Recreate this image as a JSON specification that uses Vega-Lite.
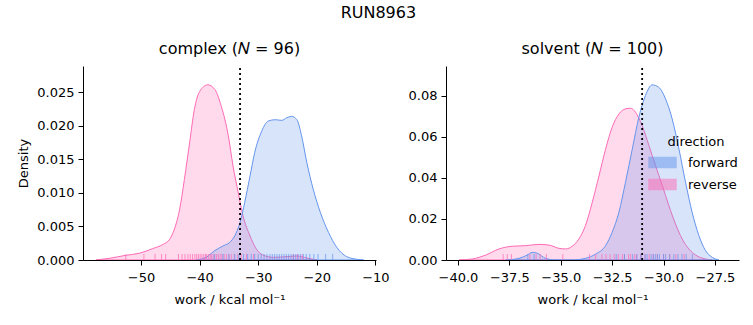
{
  "$schema": "https://vega.github.io/schema/vega-lite/v6.json",
  "background": "white",
  "padding": {"left": 17, "top": 5, "right": 5, "bottom": 5},
  "title": {"text": "RUN8963", "fontSize": 16, "font": "DejaVu Sans", "fontWeight": "normal", "color": "black", "anchor": "middle", "offset": 20},
  "config": {
    "font": "DejaVu Sans",
    "view": {"stroke": null},
    "axis": {"labelFont": "DejaVu Sans", "labelFontSize": 13, "titleFont": "DejaVu Sans", "titleFontSize": 13, "titleFontWeight": "normal", "labelColor": "black", "titleColor": "black", "domainColor": "black", "tickColor": "black", "grid": false, "tickSize": 5, "labelPadding": 4, "titlePadding": 6, "labelFlush": false, "labelOverlap": false},
    "axisX": {"labelPadding": 6, "titlePadding": 9},
    "title": {"font": "DejaVu Sans", "fontSize": 16, "fontWeight": "normal", "color": "black"}
  },
  "bounds": "flush",
  "spacing": 70,
  "resolve": {"scale": {"fill": "independent", "stroke": "independent"}, "legend": {"fill": "independent", "stroke": "independent"}},
  "datasets": {
    "kde": [
      {"phase": "complex", "direction": "reverse", "work": -57.7, "density": 0},
      {"phase": "complex", "direction": "reverse", "work": -55.4, "density": 0.00025},
      {"phase": "complex", "direction": "reverse", "work": -52.6, "density": 0.0007},
      {"phase": "complex", "direction": "reverse", "work": -50.3, "density": 0.001},
      {"phase": "complex", "direction": "reverse", "work": -48.0, "density": 0.0017},
      {"phase": "complex", "direction": "reverse", "work": -46.3, "density": 0.0023},
      {"phase": "complex", "direction": "reverse", "work": -45.1, "density": 0.0031},
      {"phase": "complex", "direction": "reverse", "work": -44.3, "density": 0.0046},
      {"phase": "complex", "direction": "reverse", "work": -43.4, "density": 0.0076},
      {"phase": "complex", "direction": "reverse", "work": -42.6, "density": 0.012},
      {"phase": "complex", "direction": "reverse", "work": -41.7, "density": 0.0175},
      {"phase": "complex", "direction": "reverse", "work": -40.9, "density": 0.0224},
      {"phase": "complex", "direction": "reverse", "work": -40.0, "density": 0.0251},
      {"phase": "complex", "direction": "reverse", "work": -38.6, "density": 0.0261},
      {"phase": "complex", "direction": "reverse", "work": -37.4, "density": 0.0254},
      {"phase": "complex", "direction": "reverse", "work": -36.3, "density": 0.0229},
      {"phase": "complex", "direction": "reverse", "work": -35.1, "density": 0.0185},
      {"phase": "complex", "direction": "reverse", "work": -34.3, "density": 0.014},
      {"phase": "complex", "direction": "reverse", "work": -33.4, "density": 0.010},
      {"phase": "complex", "direction": "reverse", "work": -32.6, "density": 0.0066},
      {"phase": "complex", "direction": "reverse", "work": -31.4, "density": 0.0036},
      {"phase": "complex", "direction": "reverse", "work": -30.3, "density": 0.0016},
      {"phase": "complex", "direction": "reverse", "work": -29.1, "density": 0.0007},
      {"phase": "complex", "direction": "reverse", "work": -27.4, "density": 0.0004},
      {"phase": "complex", "direction": "reverse", "work": -25.1, "density": 0.0005},
      {"phase": "complex", "direction": "reverse", "work": -23.4, "density": 0.0006},
      {"phase": "complex", "direction": "reverse", "work": -21.7, "density": 0.0003},
      {"phase": "complex", "direction": "reverse", "work": -20.0, "density": 0},
      {"phase": "complex", "direction": "forward", "work": -40.6, "density": 0},
      {"phase": "complex", "direction": "forward", "work": -38.9, "density": 0.0004},
      {"phase": "complex", "direction": "forward", "work": -37.4, "density": 0.0014},
      {"phase": "complex", "direction": "forward", "work": -36.0, "density": 0.0021},
      {"phase": "complex", "direction": "forward", "work": -34.9, "density": 0.0026},
      {"phase": "complex", "direction": "forward", "work": -34.0, "density": 0.0036},
      {"phase": "complex", "direction": "forward", "work": -33.1, "density": 0.0056},
      {"phase": "complex", "direction": "forward", "work": -32.3, "density": 0.0086},
      {"phase": "complex", "direction": "forward", "work": -31.4, "density": 0.0125},
      {"phase": "complex", "direction": "forward", "work": -30.6, "density": 0.016},
      {"phase": "complex", "direction": "forward", "work": -29.4, "density": 0.0192},
      {"phase": "complex", "direction": "forward", "work": -28.3, "density": 0.0207},
      {"phase": "complex", "direction": "forward", "work": -27.1, "density": 0.0209},
      {"phase": "complex", "direction": "forward", "work": -26.0, "density": 0.0208},
      {"phase": "complex", "direction": "forward", "work": -25.1, "density": 0.0212},
      {"phase": "complex", "direction": "forward", "work": -24.3, "density": 0.0214},
      {"phase": "complex", "direction": "forward", "work": -23.4, "density": 0.0209},
      {"phase": "complex", "direction": "forward", "work": -22.6, "density": 0.0185},
      {"phase": "complex", "direction": "forward", "work": -21.7, "density": 0.0145},
      {"phase": "complex", "direction": "forward", "work": -20.6, "density": 0.0105},
      {"phase": "complex", "direction": "forward", "work": -19.4, "density": 0.0071},
      {"phase": "complex", "direction": "forward", "work": -18.0, "density": 0.0041},
      {"phase": "complex", "direction": "forward", "work": -16.6, "density": 0.0019},
      {"phase": "complex", "direction": "forward", "work": -14.9, "density": 0.0005},
      {"phase": "complex", "direction": "forward", "work": -13.1, "density": 0.0001},
      {"phase": "complex", "direction": "forward", "work": -12.0, "density": 0},
      {"phase": "solvent", "direction": "reverse", "work": -39.95, "density": 0},
      {"phase": "solvent", "direction": "reverse", "work": -39.3, "density": 0.0005},
      {"phase": "solvent", "direction": "reverse", "work": -38.65, "density": 0.0024},
      {"phase": "solvent", "direction": "reverse", "work": -38.0, "density": 0.0054},
      {"phase": "solvent", "direction": "reverse", "work": -37.36, "density": 0.0067},
      {"phase": "solvent", "direction": "reverse", "work": -36.7, "density": 0.007},
      {"phase": "solvent", "direction": "reverse", "work": -36.06, "density": 0.0076},
      {"phase": "solvent", "direction": "reverse", "work": -35.58, "density": 0.0073},
      {"phase": "solvent", "direction": "reverse", "work": -35.09, "density": 0.0057},
      {"phase": "solvent", "direction": "reverse", "work": -34.76, "density": 0.0054},
      {"phase": "solvent", "direction": "reverse", "work": -34.44, "density": 0.0067},
      {"phase": "solvent", "direction": "reverse", "work": -34.12, "density": 0.0102},
      {"phase": "solvent", "direction": "reverse", "work": -33.8, "density": 0.0167},
      {"phase": "solvent", "direction": "reverse", "work": -33.47, "density": 0.028},
      {"phase": "solvent", "direction": "reverse", "work": -33.14, "density": 0.041},
      {"phase": "solvent", "direction": "reverse", "work": -32.82, "density": 0.054},
      {"phase": "solvent", "direction": "reverse", "work": -32.5, "density": 0.0647},
      {"phase": "solvent", "direction": "reverse", "work": -32.17, "density": 0.0712},
      {"phase": "solvent", "direction": "reverse", "work": -31.85, "density": 0.0737},
      {"phase": "solvent", "direction": "reverse", "work": -31.6, "density": 0.074},
      {"phase": "solvent", "direction": "reverse", "work": -31.36, "density": 0.072},
      {"phase": "solvent", "direction": "reverse", "work": -31.04, "density": 0.0655},
      {"phase": "solvent", "direction": "reverse", "work": -30.71, "density": 0.0558},
      {"phase": "solvent", "direction": "reverse", "work": -30.39, "density": 0.046},
      {"phase": "solvent", "direction": "reverse", "work": -30.06, "density": 0.0363},
      {"phase": "solvent", "direction": "reverse", "work": -29.74, "density": 0.0265},
      {"phase": "solvent", "direction": "reverse", "work": -29.42, "density": 0.0176},
      {"phase": "solvent", "direction": "reverse", "work": -29.09, "density": 0.0102},
      {"phase": "solvent", "direction": "reverse", "work": -28.77, "density": 0.0054},
      {"phase": "solvent", "direction": "reverse", "work": -28.44, "density": 0.0024},
      {"phase": "solvent", "direction": "reverse", "work": -27.96, "density": 0.0005},
      {"phase": "solvent", "direction": "reverse", "work": -27.63, "density": 0},
      {"phase": "solvent", "direction": "forward", "work": -37.68, "density": 0},
      {"phase": "solvent", "direction": "forward", "work": -37.03, "density": 0.0008},
      {"phase": "solvent", "direction": "forward", "work": -36.63, "density": 0.0024},
      {"phase": "solvent", "direction": "forward", "work": -36.39, "density": 0.0037},
      {"phase": "solvent", "direction": "forward", "work": -36.14, "density": 0.0033},
      {"phase": "solvent", "direction": "forward", "work": -35.74, "density": 0.0008},
      {"phase": "solvent", "direction": "forward", "work": -35.25, "density": 0},
      {"phase": "solvent", "direction": "forward", "work": -34.44, "density": 0},
      {"phase": "solvent", "direction": "forward", "work": -33.8, "density": 0.0008},
      {"phase": "solvent", "direction": "forward", "work": -33.3, "density": 0.0029},
      {"phase": "solvent", "direction": "forward", "work": -32.82, "density": 0.007},
      {"phase": "solvent", "direction": "forward", "work": -32.5, "density": 0.0135},
      {"phase": "solvent", "direction": "forward", "work": -32.17, "density": 0.0233},
      {"phase": "solvent", "direction": "forward", "work": -31.85, "density": 0.0379},
      {"phase": "solvent", "direction": "forward", "work": -31.52, "density": 0.0541},
      {"phase": "solvent", "direction": "forward", "work": -31.2, "density": 0.0696},
      {"phase": "solvent", "direction": "forward", "work": -30.88, "density": 0.0802},
      {"phase": "solvent", "direction": "forward", "work": -30.55, "density": 0.0854},
      {"phase": "solvent", "direction": "forward", "work": -30.23, "density": 0.0842},
      {"phase": "solvent", "direction": "forward", "work": -29.9, "density": 0.0785},
      {"phase": "solvent", "direction": "forward", "work": -29.58, "density": 0.0688},
      {"phase": "solvent", "direction": "forward", "work": -29.25, "density": 0.0541},
      {"phase": "solvent", "direction": "forward", "work": -28.93, "density": 0.0379},
      {"phase": "solvent", "direction": "forward", "work": -28.61, "density": 0.0233},
      {"phase": "solvent", "direction": "forward", "work": -28.28, "density": 0.0119},
      {"phase": "solvent", "direction": "forward", "work": -27.96, "density": 0.0046},
      {"phase": "solvent", "direction": "forward", "work": -27.63, "density": 0.0013},
      {"phase": "solvent", "direction": "forward", "work": -27.3, "density": 0}
    ],
    "rug": [
      {"phase": "complex", "direction": "reverse", "work": -52.6},
      {"phase": "complex", "direction": "reverse", "work": -49.5},
      {"phase": "complex", "direction": "reverse", "work": -47.6},
      {"phase": "complex", "direction": "reverse", "work": -46.5},
      {"phase": "complex", "direction": "reverse", "work": -45.8},
      {"phase": "complex", "direction": "reverse", "work": -43.6},
      {"phase": "complex", "direction": "reverse", "work": -43.0},
      {"phase": "complex", "direction": "reverse", "work": -42.5},
      {"phase": "complex", "direction": "reverse", "work": -42.0},
      {"phase": "complex", "direction": "reverse", "work": -41.6},
      {"phase": "complex", "direction": "reverse", "work": -41.2},
      {"phase": "complex", "direction": "reverse", "work": -40.8},
      {"phase": "complex", "direction": "reverse", "work": -40.5},
      {"phase": "complex", "direction": "reverse", "work": -40.2},
      {"phase": "complex", "direction": "reverse", "work": -39.9},
      {"phase": "complex", "direction": "reverse", "work": -39.6},
      {"phase": "complex", "direction": "reverse", "work": -39.3},
      {"phase": "complex", "direction": "reverse", "work": -39.0},
      {"phase": "complex", "direction": "reverse", "work": -38.8},
      {"phase": "complex", "direction": "reverse", "work": -38.5},
      {"phase": "complex", "direction": "reverse", "work": -38.2},
      {"phase": "complex", "direction": "reverse", "work": -38.0},
      {"phase": "complex", "direction": "reverse", "work": -37.7},
      {"phase": "complex", "direction": "reverse", "work": -37.4},
      {"phase": "complex", "direction": "reverse", "work": -37.1},
      {"phase": "complex", "direction": "reverse", "work": -36.8},
      {"phase": "complex", "direction": "reverse", "work": -36.5},
      {"phase": "complex", "direction": "reverse", "work": -36.2},
      {"phase": "complex", "direction": "reverse", "work": -35.8},
      {"phase": "complex", "direction": "reverse", "work": -35.4},
      {"phase": "complex", "direction": "reverse", "work": -35.0},
      {"phase": "complex", "direction": "reverse", "work": -34.6},
      {"phase": "complex", "direction": "reverse", "work": -34.1},
      {"phase": "complex", "direction": "reverse", "work": -33.5},
      {"phase": "complex", "direction": "reverse", "work": -32.9},
      {"phase": "complex", "direction": "reverse", "work": -32.0},
      {"phase": "complex", "direction": "reverse", "work": -30.8},
      {"phase": "complex", "direction": "reverse", "work": -24.0},
      {"phase": "complex", "direction": "reverse", "work": -23.3},
      {"phase": "complex", "direction": "reverse", "work": -22.5},
      {"phase": "complex", "direction": "forward", "work": -37.5},
      {"phase": "complex", "direction": "forward", "work": -36.0},
      {"phase": "complex", "direction": "forward", "work": -35.0},
      {"phase": "complex", "direction": "forward", "work": -34.0},
      {"phase": "complex", "direction": "forward", "work": -33.3},
      {"phase": "complex", "direction": "forward", "work": -32.5},
      {"phase": "complex", "direction": "forward", "work": -31.8},
      {"phase": "complex", "direction": "forward", "work": -31.2},
      {"phase": "complex", "direction": "forward", "work": -30.6},
      {"phase": "complex", "direction": "forward", "work": -30.0},
      {"phase": "complex", "direction": "forward", "work": -29.5},
      {"phase": "complex", "direction": "forward", "work": -29.0},
      {"phase": "complex", "direction": "forward", "work": -28.5},
      {"phase": "complex", "direction": "forward", "work": -28.0},
      {"phase": "complex", "direction": "forward", "work": -27.6},
      {"phase": "complex", "direction": "forward", "work": -27.2},
      {"phase": "complex", "direction": "forward", "work": -26.8},
      {"phase": "complex", "direction": "forward", "work": -26.4},
      {"phase": "complex", "direction": "forward", "work": -26.0},
      {"phase": "complex", "direction": "forward", "work": -25.6},
      {"phase": "complex", "direction": "forward", "work": -25.2},
      {"phase": "complex", "direction": "forward", "work": -24.8},
      {"phase": "complex", "direction": "forward", "work": -24.4},
      {"phase": "complex", "direction": "forward", "work": -24.0},
      {"phase": "complex", "direction": "forward", "work": -23.6},
      {"phase": "complex", "direction": "forward", "work": -23.2},
      {"phase": "complex", "direction": "forward", "work": -22.8},
      {"phase": "complex", "direction": "forward", "work": -22.3},
      {"phase": "complex", "direction": "forward", "work": -21.8},
      {"phase": "complex", "direction": "forward", "work": -21.2},
      {"phase": "complex", "direction": "forward", "work": -20.5},
      {"phase": "complex", "direction": "forward", "work": -19.8},
      {"phase": "complex", "direction": "forward", "work": -18.5},
      {"phase": "complex", "direction": "forward", "work": -17.3},
      {"phase": "solvent", "direction": "reverse", "work": -37.8},
      {"phase": "solvent", "direction": "reverse", "work": -37.6},
      {"phase": "solvent", "direction": "reverse", "work": -37.4},
      {"phase": "solvent", "direction": "reverse", "work": -36.5},
      {"phase": "solvent", "direction": "reverse", "work": -36.2},
      {"phase": "solvent", "direction": "reverse", "work": -36.0},
      {"phase": "solvent", "direction": "reverse", "work": -35.7},
      {"phase": "solvent", "direction": "reverse", "work": -34.9},
      {"phase": "solvent", "direction": "reverse", "work": -33.6},
      {"phase": "solvent", "direction": "reverse", "work": -33.3},
      {"phase": "solvent", "direction": "reverse", "work": -33.0},
      {"phase": "solvent", "direction": "reverse", "work": -32.8},
      {"phase": "solvent", "direction": "reverse", "work": -32.6},
      {"phase": "solvent", "direction": "reverse", "work": -32.4},
      {"phase": "solvent", "direction": "reverse", "work": -32.2},
      {"phase": "solvent", "direction": "reverse", "work": -32.0},
      {"phase": "solvent", "direction": "reverse", "work": -31.9},
      {"phase": "solvent", "direction": "reverse", "work": -31.7},
      {"phase": "solvent", "direction": "reverse", "work": -31.6},
      {"phase": "solvent", "direction": "reverse", "work": -31.4},
      {"phase": "solvent", "direction": "reverse", "work": -31.3},
      {"phase": "solvent", "direction": "reverse", "work": -31.1},
      {"phase": "solvent", "direction": "reverse", "work": -30.9},
      {"phase": "solvent", "direction": "reverse", "work": -30.7},
      {"phase": "solvent", "direction": "reverse", "work": -30.5},
      {"phase": "solvent", "direction": "reverse", "work": -30.3},
      {"phase": "solvent", "direction": "reverse", "work": -30.0},
      {"phase": "solvent", "direction": "reverse", "work": -29.7},
      {"phase": "solvent", "direction": "reverse", "work": -29.4},
      {"phase": "solvent", "direction": "reverse", "work": -29.0},
      {"phase": "solvent", "direction": "forward", "work": -36.6},
      {"phase": "solvent", "direction": "forward", "work": -36.3},
      {"phase": "solvent", "direction": "forward", "work": -32.3},
      {"phase": "solvent", "direction": "forward", "work": -31.9},
      {"phase": "solvent", "direction": "forward", "work": -31.5},
      {"phase": "solvent", "direction": "forward", "work": -31.3},
      {"phase": "solvent", "direction": "forward", "work": -31.1},
      {"phase": "solvent", "direction": "forward", "work": -30.9},
      {"phase": "solvent", "direction": "forward", "work": -30.8},
      {"phase": "solvent", "direction": "forward", "work": -30.6},
      {"phase": "solvent", "direction": "forward", "work": -30.5},
      {"phase": "solvent", "direction": "forward", "work": -30.4},
      {"phase": "solvent", "direction": "forward", "work": -30.3},
      {"phase": "solvent", "direction": "forward", "work": -30.2},
      {"phase": "solvent", "direction": "forward", "work": -30.0},
      {"phase": "solvent", "direction": "forward", "work": -29.9},
      {"phase": "solvent", "direction": "forward", "work": -29.7},
      {"phase": "solvent", "direction": "forward", "work": -29.5},
      {"phase": "solvent", "direction": "forward", "work": -29.3},
      {"phase": "solvent", "direction": "forward", "work": -29.1},
      {"phase": "solvent", "direction": "forward", "work": -28.9},
      {"phase": "solvent", "direction": "forward", "work": -28.6}
    ],
    "marker": [
      {"phase": "complex", "work": -33.1},
      {"phase": "solvent", "work": -31.04}
    ]
  },
  "hconcat": [
    {
      "name": "L",
      "width": 293,
      "height": 194,
      "title": {"text": "complex (𝑁 = 96)", "offset": 8},
      "layer": [
        {
          "data": {"name": "kde"},
          "transform": [{"filter": "datum.phase === 'complex'"}],
          "mark": {"type": "area", "fillOpacity": 0.25, "strokeWidth": 1, "interpolate": "monotone", "clip": true},
          "encoding": {
            "x": {"field": "work", "type": "quantitative", "scale": {"domain": [-59.9, -9.9], "nice": false, "zero": false}, "axis": {"values": [-50, -40, -30, -20, -10], "format": "d", "title": "work / kcal mol⁻¹"}},
            "y": {"field": "density", "type": "quantitative", "stack": null, "scale": {"domain": [0, 0.0289], "nice": false}, "axis": {"values": [0, 0.005, 0.01, 0.015, 0.02, 0.025], "format": ".3f", "title": "Density"}},
            "fill": {"field": "direction", "type": "nominal", "scale": {"domain": ["forward", "reverse"], "range": ["#6495ED", "#FF69B4"]}, "legend": null},
            "stroke": {"field": "direction", "type": "nominal", "scale": {"domain": ["forward", "reverse"], "range": ["#6495ED", "#FF69B4"]}, "legend": null}
          }
        },
        {
          "data": {"name": "rug"},
          "transform": [{"filter": "datum.phase === 'complex'"}],
          "mark": {"type": "rule", "strokeWidth": 1, "strokeOpacity": 0.7},
          "encoding": {
            "x": {"field": "work", "type": "quantitative", "axis": {"values": [-50, -40, -30, -20, -10], "format": "d", "title": "work / kcal mol⁻¹"}},
            "y": {"datum": 0, "type": "quantitative", "axis": {"values": [0, 0.005, 0.01, 0.015, 0.02, 0.025], "format": ".3f", "title": "Density"}},
            "y2": {"datum": 0.0009},
            "stroke": {"field": "direction", "type": "nominal", "legend": null}
          }
        },
        {
          "data": {"name": "marker"},
          "transform": [{"filter": "datum.phase === 'complex'"}],
          "mark": {"type": "rule", "color": "black", "strokeWidth": 1.8, "strokeDash": [2, 3]},
          "encoding": {
            "x": {"field": "work", "type": "quantitative", "axis": {"values": [-50, -40, -30, -20, -10], "format": "d", "title": "work / kcal mol⁻¹"}},
            "y": {"datum": 0, "type": "quantitative", "axis": {"values": [0, 0.005, 0.01, 0.015, 0.02, 0.025], "format": ".3f", "title": "Density"}},
            "y2": {"datum": 0.0289}
          }
        }
      ]
    },
    {
      "name": "R",
      "width": 293,
      "height": 194,
      "title": {"text": "solvent (𝑁 = 100)", "offset": 8},
      "layer": [
        {
          "data": {"name": "kde"},
          "transform": [{"filter": "datum.phase === 'solvent'"}],
          "mark": {"type": "area", "fillOpacity": 0.25, "strokeWidth": 1, "interpolate": "monotone", "clip": true},
          "encoding": {
            "x": {"field": "work", "type": "quantitative", "scale": {"domain": [-40.58, -26.33], "nice": false, "zero": false}, "axis": {"values": [-40, -37.5, -35, -32.5, -30, -27.5], "format": ".1f", "title": "work / kcal mol⁻¹"}},
            "y": {"field": "density", "type": "quantitative", "stack": null, "scale": {"domain": [0, 0.0946], "nice": false}, "axis": {"values": [0, 0.02, 0.04, 0.06, 0.08], "format": ".2f", "title": null}},
            "fill": {"field": "direction", "type": "nominal", "scale": {"domain": ["forward", "reverse"], "range": ["#6495ED", "#FF69B4"]},
              "legend": {"orient": "none", "legendX": 209, "legendY": 70, "title": "direction", "titleFontSize": 13, "titleFontWeight": "normal", "titleColor": "black", "titleAnchor": "middle", "titleAlign": "center", "titlePadding": 6, "labelFontSize": 13, "labelColor": "black", "labelOffset": 18, "rowPadding": 5, "padding": 0,
                "symbolType": "M-2,-0.75H2V0.75H-2Z", "symbolSize": 182, "symbolStrokeWidth": 1.5, "symbolOpacity": 0.5}},
            "stroke": {"field": "direction", "type": "nominal", "scale": {"domain": ["forward", "reverse"], "range": ["#6495ED", "#FF69B4"]},
              "legend": {"orient": "none", "legendX": 209, "legendY": 70, "title": "direction", "titleFontSize": 13, "titleFontWeight": "normal", "titleColor": "black", "titleAnchor": "middle", "titleAlign": "center", "titlePadding": 6, "labelFontSize": 13, "labelColor": "black", "labelOffset": 18, "rowPadding": 5, "padding": 0,
                "symbolType": "M-2,-0.75H2V0.75H-2Z", "symbolSize": 182, "symbolStrokeWidth": 1.5, "symbolOpacity": 0.5}}
          }
        },
        {
          "data": {"name": "rug"},
          "transform": [{"filter": "datum.phase === 'solvent'"}],
          "mark": {"type": "rule", "strokeWidth": 1, "strokeOpacity": 0.7},
          "encoding": {
            "x": {"field": "work", "type": "quantitative", "axis": {"values": [-40, -37.5, -35, -32.5, -30, -27.5], "format": ".1f", "title": "work / kcal mol⁻¹"}},
            "y": {"datum": 0, "type": "quantitative", "axis": {"values": [0, 0.02, 0.04, 0.06, 0.08], "format": ".2f", "title": null}},
            "y2": {"datum": 0.0029},
            "stroke": {"field": "direction", "type": "nominal",
              "legend": {"orient": "none", "legendX": 209, "legendY": 70, "title": "direction", "titleFontSize": 13, "titleFontWeight": "normal", "titleColor": "black", "titleAnchor": "middle", "titleAlign": "center", "titlePadding": 6, "labelFontSize": 13, "labelColor": "black", "labelOffset": 18, "rowPadding": 5, "padding": 0,
                "symbolType": "M-2,-0.75H2V0.75H-2Z", "symbolSize": 182, "symbolStrokeWidth": 1.5, "symbolOpacity": 0.5}}
          }
        },
        {
          "data": {"name": "marker"},
          "transform": [{"filter": "datum.phase === 'solvent'"}],
          "mark": {"type": "rule", "color": "black", "strokeWidth": 1.8, "strokeDash": [2, 3]},
          "encoding": {
            "x": {"field": "work", "type": "quantitative", "axis": {"values": [-40, -37.5, -35, -32.5, -30, -27.5], "format": ".1f", "title": "work / kcal mol⁻¹"}},
            "y": {"datum": 0, "type": "quantitative", "axis": {"values": [0, 0.02, 0.04, 0.06, 0.08], "format": ".2f", "title": null}},
            "y2": {"datum": 0.0946}
          }
        }
      ]
    }
  ]
}
